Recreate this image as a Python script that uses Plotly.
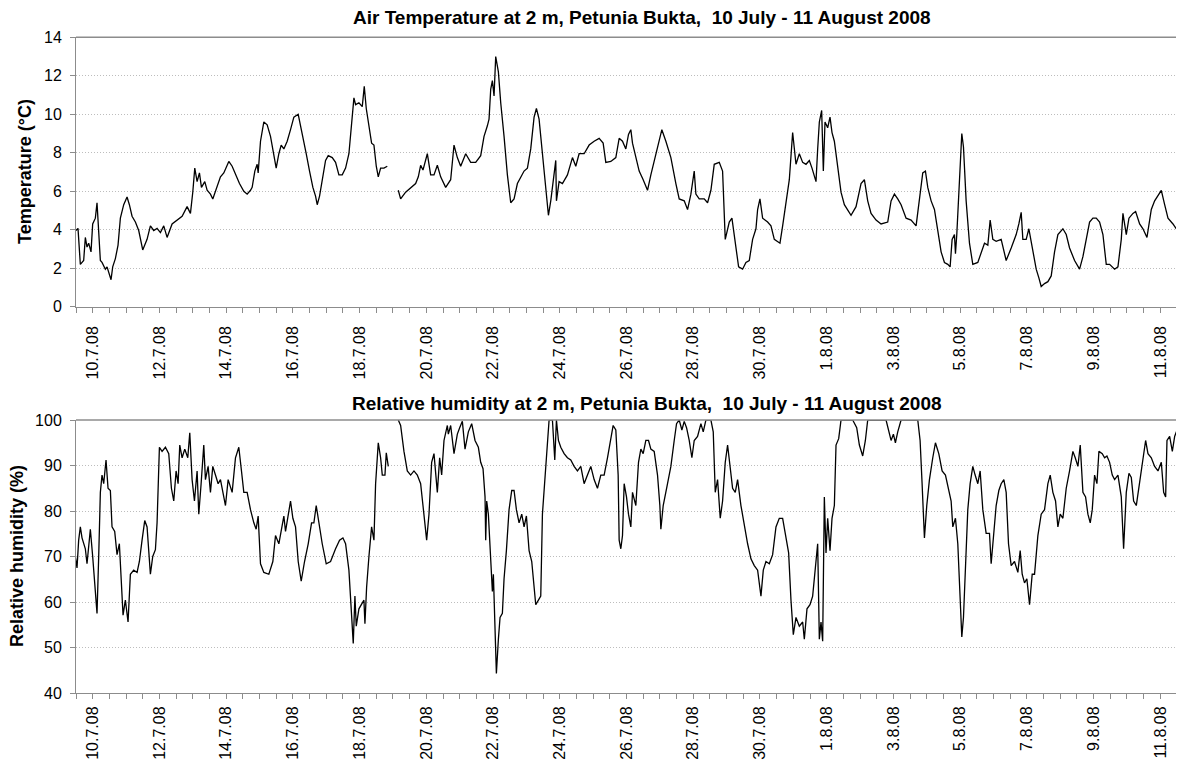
import pandas as pd
import plotly.graph_objects as go

# ---------------- data ----------------
# time offsets in days from 10.7.2008 00:00 ; None marks a data gap
temp_days = [-0.50,-0.44,-0.37,-0.27,-0.22,-0.17,-0.12,-0.05,0.00,0.08,0.13,0.18,0.23,0.28,0.38,0.43,0.50,0.55,0.60,
             0.68,0.76,0.83,0.93,1.03,1.10,1.18,1.28,1.38,1.50,1.63,1.73,1.83,1.93,2.03,2.13,2.23,2.38,2.53,2.68,2.83,
             2.93,3.00,3.06,3.13,3.20,3.26,3.36,3.43,3.53,3.60,3.73,3.83,3.93,4.08,4.18,4.28,4.40,4.53,4.63,4.73,4.78,
             4.86,4.93,4.96,5.03,5.13,5.23,5.33,5.43,5.50,5.58,5.65,5.73,5.83,5.93,6.03,6.16,6.28,6.40,6.50,6.60,6.68,
             6.73,6.80,6.90,6.98,7.06,7.18,7.28,7.38,7.48,7.58,7.68,7.76,7.83,7.88,7.98,8.08,8.14,8.20,8.28,8.36,8.43,
             8.50,8.56,8.63,8.73,8.83,9.00,
             9.16,9.23,9.38,9.53,9.68,9.76,9.83,9.90,10.03,10.13,10.23,10.33,10.43,10.58,10.73,10.83,10.93,11.03,11.18,
             11.33,11.48,11.63,11.73,11.83,11.88,11.93,11.98,12.03,12.08,12.16,12.23,12.33,12.43,12.53,12.63,12.73,12.83,
             12.93,13.03,13.13,13.23,13.30,13.38,13.48,13.58,13.66,13.73,13.83,13.88,13.90,13.98,14.08,14.23,14.38,14.48,
             14.58,14.73,14.88,15.03,15.18,15.30,15.38,15.53,15.68,15.78,15.88,15.98,16.06,16.13,16.18,16.28,16.38,16.50,
             16.63,16.73,16.88,16.98,17.06,17.18,17.33,17.48,17.58,17.73,17.83,17.93,18.03,18.08,18.18,18.33,18.43,18.53,
             18.63,18.78,18.88,18.96,19.08,19.16,19.26,19.36,19.48,19.58,19.68,19.78,19.88,19.93,20.00,20.08,20.23,20.33,
             20.43,20.53,20.60,20.68,20.78,20.88,20.98,21.08,21.18,21.28,21.38,21.48,21.56,21.63,21.68,21.73,21.78,21.85,
             21.90,21.95,22.03,22.10,22.16,22.23,22.33,22.43,22.53,22.73,22.88,23.03,23.13,23.23,23.33,23.48,23.63,23.83,
             23.93,24.03,24.13,24.23,24.38,24.53,24.68,24.78,24.88,24.96,25.03,25.13,25.23,25.33,25.43,25.53,25.63,25.70,
             25.76,25.83,25.86,25.90,25.98,26.05,26.10,26.18,26.28,26.38,26.53,26.63,26.73,26.83,26.90,26.98,27.08,27.23,
             27.38,27.53,27.68,27.76,27.83,27.88,27.98,28.06,28.16,28.28,28.36,28.43,28.53,28.63,28.73,28.83,28.93,29.08,
             29.18,29.28,29.43,29.58,29.68,29.78,29.88,29.98,30.08,30.18,30.28,30.38,30.48,30.63,30.73,30.83,30.88,30.98,
             31.06,31.18,31.26,31.38,31.48,31.60,31.73,31.83,31.93,32.03,32.13,32.23,32.38,32.48,32.56,32.63,32.68,32.72]
temp_vals = [3.96,4.07,2.2,2.4,3.6,3.1,3.3,2.85,4.3,4.6,5.4,3.95,2.4,2.3,1.95,2.07,1.7,1.4,2.07,
             2.5,3.2,4.6,5.3,5.7,5.3,4.7,4.4,3.96,2.95,3.5,4.2,3.96,4.07,3.85,4.2,3.6,4.3,4.5,4.7,5.2,
             4.85,5.95,7.2,6.5,6.95,6.2,6.5,6.05,5.85,5.6,6.2,6.75,6.95,7.55,7.3,6.85,6.4,6.0,5.85,6.05,6.2,
             7.05,7.4,6.95,8.6,9.6,9.45,8.85,7.95,7.2,7.95,8.4,8.2,8.6,9.2,9.85,10.0,9.05,7.95,7.05,6.2,5.75,
             5.3,5.75,6.75,7.6,7.85,7.75,7.5,6.85,6.85,7.2,7.95,9.5,10.85,10.5,10.6,10.4,11.45,10.3,9.5,8.5,8.4,
             7.3,6.75,7.2,7.2,7.3,None,
             6.05,5.6,5.95,6.2,6.4,6.75,7.35,7.1,7.95,6.85,6.85,7.35,6.75,6.2,6.6,8.4,7.75,7.3,7.95,
             7.5,7.5,7.85,8.85,9.4,9.75,11.3,11.75,10.95,13.0,12.2,10.6,8.85,6.85,5.4,5.6,6.4,6.75,
             7.05,7.2,8.2,9.85,10.3,9.75,7.95,6.4,4.75,5.5,6.75,7.6,5.5,6.5,6.4,6.85,7.75,7.3,
             7.95,7.95,8.4,8.6,8.75,8.5,7.5,7.55,7.75,8.75,8.6,8.2,8.95,9.2,8.5,7.75,7.05,6.6,
             6.05,6.85,7.95,8.75,9.2,8.6,7.75,6.4,5.6,5.5,5.05,5.85,7.05,5.85,5.6,5.6,5.4,6.05,
             7.4,7.5,7.05,3.5,4.4,4.6,3.2,2.07,1.95,2.3,2.4,3.5,4.05,5.05,5.6,4.6,4.4,4.2,
             3.5,3.4,3.3,4.2,5.3,6.6,9.05,7.4,7.95,7.5,7.4,7.6,7.2,6.75,6.5,8.2,9.6,10.2,
             7.05,9.6,9.3,9.85,9.05,8.6,7.3,5.95,5.3,4.75,5.2,6.4,6.6,5.5,4.85,4.5,4.3,4.4,
             5.5,5.85,5.6,5.3,4.6,4.5,4.2,5.5,6.95,7.05,6.2,5.5,5.05,3.95,2.85,2.3,2.2,2.07,
             3.5,3.75,2.75,3.75,6.6,9.0,8.3,5.5,3.3,2.2,2.3,2.85,3.3,3.2,4.5,3.5,3.4,3.5,
             2.4,3.05,3.75,4.3,4.9,3.5,3.5,4.05,3.05,1.95,1.5,1.05,1.2,1.3,1.6,2.85,3.75,4.05,
             3.75,3.05,2.4,1.95,2.6,3.5,4.4,4.6,4.6,4.4,3.75,2.2,2.2,1.95,2.07,3.5,4.85,3.75,
             4.6,4.85,4.95,4.3,4.05,3.6,5.05,5.5,5.75,6.05,5.3,4.6,4.3,4.05,5.05,5.3,4.85,6.6]

rh_days = [-0.52,-0.47,-0.42,-0.37,-0.32,-0.22,-0.17,-0.12,-0.07,0.00,0.06,0.13,0.18,0.23,0.28,0.33,0.40,0.46,0.53,
           0.58,0.66,0.73,0.80,0.86,0.91,0.98,1.06,1.13,1.23,1.33,1.40,1.48,1.56,1.63,1.73,1.80,1.88,1.93,2.00,2.08,
           2.18,2.28,2.36,2.43,2.50,2.56,2.61,2.68,2.76,2.85,2.91,2.98,3.05,3.13,3.18,3.25,3.33,3.38,3.46,3.53,3.60,
           3.68,3.76,3.83,3.90,3.98,4.06,4.18,4.28,4.38,4.46,4.53,4.63,4.73,4.83,4.90,4.96,5.03,5.13,5.28,5.40,5.48,
           5.58,5.66,5.73,5.78,5.88,5.93,6.00,6.08,6.16,6.25,6.35,6.46,6.56,6.63,6.70,6.78,6.88,7.00,7.13,7.28,7.40,
           7.50,7.58,7.68,7.76,7.81,7.86,7.90,7.98,8.06,8.13,8.16,8.21,8.28,8.36,8.43,8.48,8.56,8.63,8.68,8.76,8.80,
           8.86,9.00,
           9.16,9.23,9.33,9.43,9.53,9.63,9.73,9.83,9.90,9.96,10.01,10.08,10.16,10.23,10.28,10.33,10.40,10.46,10.53,
           10.63,10.66,10.73,10.83,10.93,11.00,11.08,11.16,11.26,11.36,11.46,11.56,11.63,11.70,11.76,11.78,11.81,11.86,
           11.93,11.98,12.01,12.05,12.10,12.16,12.21,12.28,12.33,12.40,12.48,12.56,12.63,12.70,12.78,12.86,12.93,13.00,
           13.08,13.16,13.23,13.28,13.36,13.43,13.48,13.56,13.63,13.68,13.78,13.85,13.90,13.96,14.03,14.13,14.23,14.33,
           14.43,14.53,14.63,14.73,14.83,14.93,15.03,15.13,15.23,15.33,15.43,15.53,15.60,15.68,15.75,15.78,15.83,15.88,
           15.93,16.00,16.06,16.13,16.18,16.28,16.36,16.43,16.50,16.58,16.66,16.73,16.83,16.93,17.00,17.03,17.10,17.23,
           17.33,17.43,17.50,17.58,17.66,17.73,17.80,17.88,17.96,18.03,18.13,18.23,18.30,18.38,18.53,18.60,18.66,18.73,
           18.81,18.88,18.96,19.03,19.10,19.18,19.26,19.33,19.43,19.53,19.63,19.73,19.83,19.93,20.03,20.10,20.18,20.28,
           20.38,20.48,20.58,20.68,20.78,20.86,20.93,21.00,21.08,21.18,21.28,21.33,21.41,21.50,21.58,21.68,21.73,21.78,
           21.83,21.88,21.93,21.98,22.03,22.10,22.16,22.23,22.28,22.36,22.43,22.78,22.90,22.98,23.08,23.16,23.23,23.78,
           23.86,23.93,24.00,24.06,24.13,24.23,24.73,24.80,24.86,24.93,25.00,25.08,25.18,25.26,25.36,25.46,25.56,25.66,
           25.73,25.78,25.86,25.93,26.00,26.05,26.10,26.16,26.23,26.30,26.38,26.45,26.53,26.60,26.68,26.78,26.88,26.93,
           27.00,27.08,27.16,27.23,27.31,27.38,27.45,27.53,27.63,27.73,27.80,27.86,27.93,28.00,28.08,28.16,28.23,28.33,
           28.43,28.53,28.63,28.70,28.78,28.86,28.93,29.00,29.08,29.18,29.28,29.38,29.45,29.53,29.60,29.68,29.76,29.83,
           29.90,29.96,30.03,30.10,30.16,30.26,30.33,30.40,30.48,30.56,30.63,30.73,30.83,30.90,30.98,31.06,31.13,31.20,
           31.28,31.38,31.48,31.56,31.63,31.73,31.83,31.93,32.03,32.10,32.16,32.20,32.28,32.36,32.43,32.53,32.58,32.63,
           32.68,32.72]
rh_vals = [70.0,67.5,73.6,76.5,74.1,71.7,68.4,73.2,76.0,70.0,64.2,57.5,70.0,84.1,87.9,86.0,91.2,85.0,84.5,
           76.5,75.5,70.4,72.8,62.3,57.1,60.4,55.6,66.1,67.0,66.5,68.9,73.6,77.9,76.5,66.1,70.0,71.5,77.4,94.0,93.1,
           94.0,92.6,85.0,82.2,88.8,86.0,94.5,91.7,93.6,91.7,97.2,86.9,82.2,88.8,79.3,86.0,94.5,86.9,89.8,84.1,89.8,
           87.9,86.0,86.9,84.1,81.2,86.9,84.1,91.7,94.0,88.8,84.1,84.1,80.3,77.4,76.0,78.9,68.4,66.5,66.1,68.9,74.6,
           72.8,76.5,78.9,75.5,80.3,82.2,78.4,76.5,68.9,64.6,68.9,72.8,77.4,77.4,81.2,77.4,72.8,68.4,68.9,71.7,73.6,
           74.1,72.8,67.0,58.5,50.9,61.3,54.7,58.5,59.4,60.4,55.2,63.2,70.0,76.5,73.6,86.0,95.0,91.7,87.9,87.9,92.8,
           89.8,None,
           100.0,98.8,93.1,88.8,87.9,88.8,87.9,86.0,81.2,76.5,73.6,79.3,90.7,92.6,87.9,84.1,91.7,87.9,95.5,
           98.8,96.9,98.8,92.6,96.9,98.3,99.7,93.6,97.4,99.2,95.5,94.0,90.7,89.3,83.1,73.6,82.2,79.3,
           68.9,62.3,66.1,56.6,44.3,51.8,56.6,57.5,65.1,71.3,80.3,84.5,84.5,80.3,77.4,79.3,76.5,78.9,
           71.3,68.9,63.2,59.4,60.4,61.3,79.3,86.9,95.5,100.0,100.0,91.2,100.0,95.5,94.0,92.6,91.7,91.2,
           89.8,88.8,89.8,86.0,87.9,89.8,86.9,85.0,87.9,87.9,91.7,96.4,98.8,97.8,87.9,73.6,71.7,74.6,
           86.0,83.1,79.3,76.5,84.1,81.2,90.7,93.6,92.6,95.5,95.5,93.6,93.1,87.9,81.2,76.0,81.2,86.0,
           89.8,95.5,99.2,100.0,97.8,99.7,98.3,95.5,91.7,95.5,96.4,99.2,97.4,100.0,100.0,97.4,84.1,86.9,
           78.4,82.2,90.7,94.5,89.8,85.0,84.1,86.9,81.2,76.5,72.8,69.5,68.0,67.0,61.3,67.0,68.9,68.4,
           70.4,76.5,78.4,78.4,73.6,70.8,60.4,52.8,56.6,54.7,55.6,51.8,58.5,59.4,61.3,68.9,72.8,51.8,
           55.6,51.4,83.1,70.8,78.4,71.3,78.4,81.2,94.5,95.9,100.0,100.0,98.3,94.5,92.1,95.5,100.0,100.0,
           97.8,95.5,96.9,95.0,97.4,100.0,100.0,95.5,86.0,74.1,81.2,86.9,91.7,95.0,92.6,88.8,87.9,84.1,
           82.2,76.5,78.4,72.8,61.3,52.3,56.6,68.0,80.3,86.0,89.8,87.9,86.0,88.8,80.3,75.1,75.1,68.4,
           74.6,81.2,84.5,86.0,86.9,84.1,72.8,68.0,68.9,66.5,71.3,66.1,64.2,65.1,59.4,66.1,66.1,74.6,
           79.3,80.3,86.0,87.9,84.1,82.2,76.5,79.3,78.4,85.0,88.8,93.1,91.7,89.8,94.5,84.1,83.1,79.3,
           77.4,80.3,87.9,86.0,93.1,92.6,91.7,92.1,90.7,87.9,86.9,87.9,83.1,71.7,84.1,88.3,87.4,82.2,
           81.2,86.0,91.7,95.5,92.6,91.7,89.8,88.8,90.7,84.1,83.1,95.5,96.4,93.1,96.4,98.3,87.9,95.5,
           94.5,83.0]

tick_days = list(range(0, 33, 2))
tick_labels = ["10.7.08", "12.7.08", "14.7.08", "16.7.08", "18.7.08", "20.7.08", "22.7.08", "24.7.08",
               "26.7.08", "28.7.08", "30.7.08", "1.8.08", "3.8.08", "5.8.08", "7.8.08", "9.8.08", "11.8.08"]

title_top = "Air Temperature at 2 m, Petunia Bukta,  10 July - 11 August 2008"
title_bot = "Relative humidity at 2 m, Petunia Bukta,  10 July - 11 August 2008"
ylab_top = "Temperature (°C)"
ylab_bot = "Relative humidity (%)"

# ---------------- build ----------------
base = pd.Timestamp("2008-07-10")
def to_time(days):
    return [base + pd.Timedelta(days=d) for d in days]

FONT = "Liberation Sans, Arial, sans-serif"
AXIS_COL = "#8c8c8c"
OFF = 8                      # page body margin of the html page
W, H = 1184 - OFF, 760 - OFF
L = 76 - OFF

fig = go.Figure()
fig.add_trace(go.Scatter(x=to_time(temp_days), y=temp_vals, mode="lines", connectgaps=False,
                         line=dict(color="black", width=1.3), xaxis="x", yaxis="y", showlegend=False))
fig.add_trace(go.Scatter(x=to_time(rh_days), y=rh_vals, mode="lines", connectgaps=False,
                         line=dict(color="black", width=1.3), xaxis="x2", yaxis="y2", showlegend=False))

x_range = [base + pd.Timedelta(days=-0.5), base + pd.Timedelta(days=32.71)]
xaxis_common = dict(
    type="date", range=x_range, tickmode="array", tickvals=to_time(tick_days), ticktext=tick_labels,
    tickangle=-90, ticks="outside", ticklen=5, tickcolor=AXIS_COL, showline=True, linecolor=AXIS_COL,
    linewidth=1, showgrid=False, zeroline=False, automargin=False,
    tickfont=dict(family=FONT, size=16, color="black"),
    minor=dict(ticks="outside", ticklen=5, tickcolor=AXIS_COL, dtick=43200000,
               tick0=base + pd.Timedelta(days=-0.5), showgrid=False),
)
yaxis_common = dict(
    ticks="outside", ticklen=5, tickcolor=AXIS_COL, showline=True, linecolor=AXIS_COL, linewidth=1,
    showgrid=True, gridcolor="#bdbdbd", griddash="1px,2px", gridwidth=1, zeroline=False, automargin=False,
    ticklabelstandoff=5, tickfont=dict(family=FONT, size=16, color="black"),
)

def dom(top_px, bot_px):
    return [1 - (bot_px - OFF) / H, 1 - (top_px - OFF) / H]

fig.update_layout(
    width=W, height=H, margin=dict(l=L, r=0, t=0, b=0),
    paper_bgcolor="white", plot_bgcolor="white", template="none",
    font=dict(family=FONT, color="black"),
    xaxis=dict(**xaxis_common, anchor="y", domain=[0, 1], ticklabelstandoff=7),
    xaxis2=dict(**xaxis_common, anchor="y2", domain=[0, 1], ticklabelstandoff=1),
    yaxis=dict(**yaxis_common, domain=dom(37.3, 306.7), range=[0, 14], dtick=2, tick0=0, anchor="x"),
    yaxis2=dict(**yaxis_common, domain=dom(420.0, 693.0), range=[40, 100], dtick=10, tick0=40, anchor="x2"),
)

# top border of each plot area
for xr, yr in [("x domain", "y domain"), ("x2 domain", "y2 domain")]:
    fig.add_shape(type="line", xref=xr, yref=yr, x0=0, x1=1, y0=1, y1=1,
                  line=dict(color=AXIS_COL, width=1.5))

# screen pixel -> paper coordinates (paper spans the plot area inside the margins)
def px_x(p):
    return (p - OFF - L) / (W - L)
def px_y(p):
    return 1 - (p - OFF) / H

fig.add_annotation(text="<b>%s</b>" % title_top, x=px_x(642), y=px_y(17), xref="paper", yref="paper",
                   showarrow=False, font=dict(family=FONT, size=19, color="black"), xanchor="center", yanchor="middle")
fig.add_annotation(text="<b>%s</b>" % title_bot, x=px_x(647), y=px_y(404), xref="paper", yref="paper",
                   showarrow=False, font=dict(family=FONT, size=19, color="black"), xanchor="center", yanchor="middle")
fig.add_annotation(text="<b>%s</b>" % ylab_top, x=px_x(25), y=px_y(172), xref="paper", yref="paper",
                   showarrow=False, textangle=-90, font=dict(family=FONT, size=18, color="black"),
                   xanchor="center", yanchor="middle")
fig.add_annotation(text="<b>%s</b>" % ylab_bot, x=px_x(17), y=px_y(556), xref="paper", yref="paper",
                   showarrow=False, textangle=-90, font=dict(family=FONT, size=18, color="black"),
                   xanchor="center", yanchor="middle")

fig.write_html("out.html")
